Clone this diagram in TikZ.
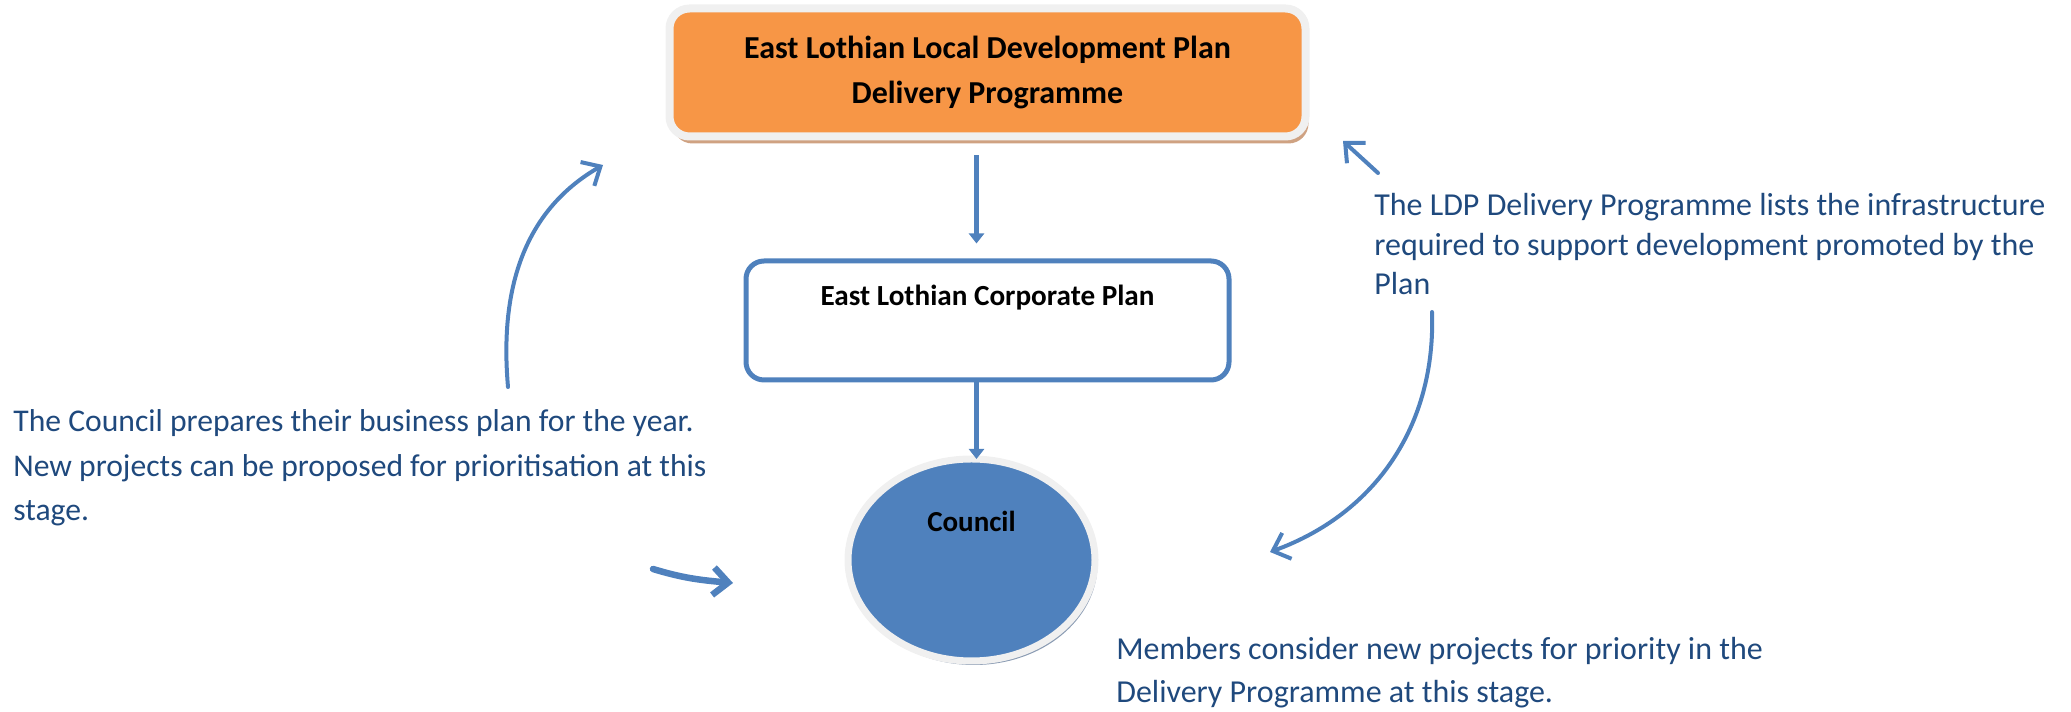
\documentclass[tikz,border=0pt]{standalone}
\usepackage{fontspec}
\setmainfont{Carlito}
\usepackage{tikz}
\usetikzlibrary{positioning,arrows.meta,shapes.geometric,shadows}
\definecolor{ldporange}{HTML}{F79646}
\definecolor{rimgray}{HTML}{F0F0F0}
\definecolor{ldpshadow}{HTML}{CFA282}
\definecolor{flowblue}{HTML}{4F81BD}
\definecolor{councilshadow}{HTML}{8A9BB3}
\definecolor{noteblue}{HTML}{1F497D}
\tikzset{
	every node/.style = {inner sep = 0},
	>={Triangle[length=0.2cm,width=0.3cm]},
	ldpbox/.style = {rectangle, rounded corners=0.4cm, fill=ldporange, draw=rimgray, line width=0.16cm,
		minimum width=12.72cm, minimum height=2.56cm, align=center,
		drop shadow={fill=ldpshadow, opacity=1, shadow xshift=0.06cm, shadow yshift=-0.14cm},
		font=\fontsize{18.2}{25.5}\selectfont\bfseries},
	corpbox/.style = {rectangle, rounded corners=0.36cm, draw=flowblue, fill=white, line width=0.1cm,
		minimum width=9.66cm, text height=0.9cm, text depth=1.48cm,
		font=\fontsize{16.6}{20}\selectfont\bfseries},
	councilnode/.style = {ellipse, fill=flowblue, draw=rimgray, line width=0.14cm, outer sep=0,
		minimum width=4.94cm, minimum height=4.04cm,
		drop shadow={fill=councilshadow, opacity=1, shadow xshift=0.05cm, shadow yshift=-0.08cm}},
	note/.style = {text=noteblue, align=left, anchor=north west},
	flow/.style = {->, draw=flowblue, line width=0.1cm},
	curve/.style = {-{Straight Barb[length=0.3cm,width=0.55cm]}, draw=flowblue, line width=0.08cm, line cap=round}
}

\begin{document}
\begin{tikzpicture}
	\useasboundingbox (0,0) rectangle (41.42,14.24);
	
	\node[ldpbox] (ldp) at (19.75,12.79) {East Lothian Local Development Plan\\Delivery Programme};
	\node[corpbox, below=2.36 of ldp] (corp) {East Lothian Corporate Plan};
	\node[councilnode, below=1.53 of corp, xshift=-0.32cm,
		label={[font=\fontsize{16.5}{20}\selectfont\bfseries, yshift=0.77cm]center:Council}] (council) {};
	
	\draw[flow, shorten <=0.3cm, shorten >=0.3cm] ([xshift=0.1cm]ldp.south -| council.north) -- ([xshift=0.1cm]corp.north -| council.north);
	\draw[flow] ([xshift=0.1cm]corp.south -| council.north) -- ([xshift=0.1cm]council.north);
	
	% notes round the cycle
	\node[note, font=\fontsize{18}{25.5}\selectfont] (prepare) at (0.26,6.06)
		{The Council prepares their business plan for the year.\\New projects can be proposed for prioritisation at this\\stage.};
	\node[note, font=\fontsize{18.2}{22.5}\selectfont] (lists) at (27.48,10.38)
		{The LDP Delivery Programme lists the infrastructure\\required to support development promoted by the\\Plan};
	\node[note, font=\fontsize{18.2}{24.6}\selectfont] (members) at (22.32,1.50)
		{Members consider new projects for priority in the\\Delivery Programme at this stage.};
	
	\coordinate (upstart) at (10.16,6.50);
	\coordinate (upend) at (12.06,10.94);
	\coordinate (backstart) at (27.56,10.78);
	\coordinate (backend) at (26.86,11.42);
	\coordinate (downstart) at (28.64,8.00);
	\coordinate (downend) at (25.40,3.20);
	\coordinate (instart) at (13.06,2.86);
	\coordinate (inend) at (14.66,2.58);
	
	\draw[curve] (upstart) to[out=95,in=210] (upend);
	\draw[curve] (backstart) -- (backend);
	\draw[curve] (downstart) to[out=-88,in=20] (downend);
	\draw[curve, line width=0.13cm] (instart) to[out=-17,in=175] (inend);
\end{tikzpicture}
\end{document}
